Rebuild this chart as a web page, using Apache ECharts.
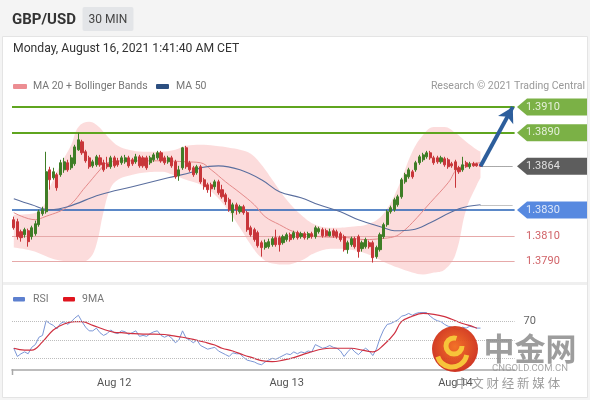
<!DOCTYPE html>
<html><head><meta charset="utf-8">
<script src="https://cdn.jsdelivr.net/npm/echarts@6/dist/echarts.min.js"></script>
<style>html,body{margin:0;padding:0;background:#f4f4f4;}#c{width:590px;height:400px;}</style>
</head><body><div id="c"></div>
<script>
// ---------- DATA ----------
// candles: [open, close, low, high]
const ohlc = [
[1.38225,1.38163,1.38148,1.38249],[1.38210,1.38094,1.38071,1.38233],[1.38132,1.38086,1.38055,1.38148],[1.38109,1.38148,1.38086,1.38163],[1.38140,1.38055,1.38016,1.38156],
[1.38094,1.38163,1.38071,1.38179],[1.38117,1.38194,1.38101,1.38218],[1.38187,1.38287,1.38171,1.38303],[1.38272,1.38303,1.38256,1.38326],[1.38287,1.38597,1.38272,1.38752],
[1.38612,1.38535,1.38458,1.38636],[1.38550,1.38597,1.38535,1.38628],[1.38574,1.38473,1.38450,1.38589],[1.38574,1.38667,1.38558,1.38690],[1.38612,1.38674,1.38589,1.38705],
[1.38667,1.38612,1.38597,1.38690],[1.38628,1.38705,1.38612,1.38728],[1.38659,1.38790,1.38643,1.38806],[1.38767,1.38845,1.38759,1.38899],[1.38829,1.38744,1.38728,1.38845],
[1.38752,1.38682,1.38667,1.38767],[1.38705,1.38636,1.38620,1.38721],[1.38643,1.38674,1.38628,1.38690],[1.38651,1.38713,1.38636,1.38728],[1.38705,1.38651,1.38636,1.38728],
[1.38667,1.38612,1.38597,1.38690],[1.38659,1.38636,1.38620,1.38713],[1.38636,1.38705,1.38620,1.38721],[1.38705,1.38643,1.38628,1.38721],[1.38682,1.38651,1.38636,1.38705],
[1.38667,1.38705,1.38651,1.38721],[1.38674,1.38705,1.38659,1.38728],[1.38705,1.38643,1.38628,1.38721],[1.38690,1.38659,1.38643,1.38705],[1.38674,1.38713,1.38659,1.38736],
[1.38713,1.38643,1.38628,1.38728],[1.38705,1.38643,1.38628,1.38721],[1.38705,1.38628,1.38612,1.38721],[1.38667,1.38705,1.38651,1.38721],[1.38690,1.38728,1.38674,1.38744],
[1.38705,1.38744,1.38690,1.38759],[1.38744,1.38682,1.38667,1.38759],[1.38705,1.38667,1.38651,1.38721],[1.38674,1.38705,1.38659,1.38721],[1.38705,1.38643,1.38628,1.38721],
[1.38674,1.38558,1.38543,1.38690],[1.38566,1.38612,1.38527,1.38643],[1.38628,1.38783,1.38612,1.38790],[1.38783,1.38636,1.38620,1.38798],[1.38667,1.38612,1.38597,1.38682],
[1.38628,1.38574,1.38558,1.38643],[1.38589,1.38636,1.38574,1.38651],[1.38636,1.38519,1.38504,1.38651],[1.38535,1.38481,1.38458,1.38550],[1.38496,1.38458,1.38434,1.38512],
[1.38496,1.38465,1.38403,1.38512],[1.38481,1.38519,1.38458,1.38535],[1.38519,1.38434,1.38419,1.38535],[1.38458,1.38403,1.38388,1.38496],[1.38419,1.38365,1.38341,1.38434],
[1.38380,1.38303,1.38287,1.38396],[1.38280,1.38341,1.38210,1.38357],[1.38341,1.38303,1.38264,1.38357],[1.38287,1.38326,1.38272,1.38341],[1.38326,1.38280,1.38264,1.38341],
[1.38280,1.38148,1.38132,1.38295],[1.38163,1.38109,1.38094,1.38179],[1.38148,1.38071,1.38055,1.38163],[1.38125,1.38024,1.38009,1.38140],[1.38047,1.38009,1.37939,1.38063],
[1.38009,1.38047,1.37993,1.38071],[1.38016,1.38055,1.38001,1.38078],[1.38032,1.38078,1.38016,1.38094],[1.38086,1.38032,1.38016,1.38148],[1.38086,1.38032,1.37978,1.38101],
[1.38047,1.38094,1.38032,1.38109],[1.38071,1.38109,1.38055,1.38125],[1.38109,1.38071,1.38055,1.38125],[1.38086,1.38125,1.38071,1.38140],[1.38125,1.38086,1.38071,1.38140],
[1.38094,1.38117,1.38078,1.38132],[1.38117,1.38086,1.38071,1.38132],[1.38086,1.38117,1.38071,1.38132],[1.38117,1.38094,1.38078,1.38132],[1.38094,1.38163,1.38078,1.38179],
[1.38132,1.38156,1.38117,1.38171],[1.38148,1.38101,1.38086,1.38163],[1.38140,1.38101,1.38094,1.38156],[1.38101,1.38132,1.38094,1.38156],[1.38140,1.38101,1.38086,1.38156],
[1.38132,1.38094,1.38078,1.38148],[1.38117,1.38071,1.38055,1.38132],[1.38094,1.37993,1.37978,1.38109],[1.37993,1.38047,1.37962,1.38063],[1.38032,1.38078,1.38016,1.38094],
[1.38078,1.38016,1.38001,1.38094],[1.38094,1.37978,1.37931,1.38109],[1.38001,1.38047,1.37978,1.38063],[1.38016,1.38071,1.38001,1.38086],[1.38047,1.38016,1.38001,1.38063],
[1.38047,1.37931,1.37893,1.38063],[1.37939,1.38009,1.37923,1.38024],[1.37993,1.38109,1.37978,1.38125],[1.38094,1.38187,1.38078,1.38202],[1.38187,1.38287,1.38171,1.38303],
[1.38287,1.38318,1.38272,1.38334],[1.38303,1.38380,1.38287,1.38396],[1.38341,1.38403,1.38326,1.38419],[1.38403,1.38535,1.38388,1.38550],[1.38519,1.38574,1.38504,1.38589],
[1.38558,1.38612,1.38543,1.38628],[1.38597,1.38558,1.38543,1.38612],[1.38612,1.38667,1.38597,1.38682],[1.38667,1.38713,1.38651,1.38728],[1.38690,1.38728,1.38674,1.38744],
[1.38713,1.38744,1.38698,1.38759],[1.38744,1.38705,1.38690,1.38759],[1.38705,1.38667,1.38651,1.38721],[1.38705,1.38674,1.38659,1.38721],[1.38674,1.38705,1.38659,1.38721],
[1.38698,1.38651,1.38636,1.38713],[1.38690,1.38636,1.38620,1.38705],[1.38659,1.38643,1.38628,1.38674],[1.38674,1.38612,1.38473,1.38690],[1.38628,1.38597,1.38581,1.38643],
[1.38612,1.38651,1.38597,1.38713],[1.38667,1.38636,1.38628,1.38682],[1.38636,1.38659,1.38620,1.38674],[1.38659,1.38643,1.38636,1.38674],[1.38659,1.38643,1.38636,1.38667],
[1.38651,1.38640,1.38636,1.38659]
];

// MA 20 (candle index, price)
const ma20Idx = [0,6,8,15,20,24,26,32,41,48,52,55,59,63,67,70,74,78,82,85,93,98,102,106,108,111,116,121,124,130];
const ma20 = [1.38280,1.38225,1.38241,1.38326,1.38481,1.38612,1.38667,1.38682,1.38682,1.38674,1.38667,1.38612,1.38519,1.38434,1.38341,1.38249,1.38187,1.38132,1.38109,1.38094,1.38086,1.38071,1.38078,1.38094,1.38125,1.38202,1.38357,1.38512,1.38628,1.38667];

// MA 50
const ma50Idx = [0,5,10,15,24,33,43,50,52,57,63,69,74,80,85,91,96,103,106,111,116,124,130];
const ma50 = [1.38388,1.38341,1.38303,1.38326,1.38419,1.38481,1.38550,1.38597,1.38628,1.38643,1.38612,1.38535,1.38442,1.38396,1.38341,1.38287,1.38225,1.38163,1.38140,1.38148,1.38202,1.38310,1.38341];

// Bollinger bands
const bbIdx = [0,5,8,10,13,16,18,21,23,25,27,29,32,36,41,45,48,52,56,60,63,66,69,72,76,80,84,89,94,99,103,107,111,114,117,120,123,126,129,130];
const bbUpper = [1.38264,1.38272,1.38318,1.38473,1.38651,1.38806,1.38945,1.38984,1.38961,1.38906,1.38845,1.38798,1.38767,1.38752,1.38752,1.38767,1.38798,1.38806,1.38798,1.38783,1.38767,1.38736,1.38651,1.38535,1.38380,1.38264,1.38187,1.38163,1.38171,1.38194,1.38272,1.38473,1.38752,1.38883,1.38945,1.38945,1.38899,1.38829,1.38767,1.38752];
const bbLower = [1.38009,1.37985,1.37954,1.37931,1.37908,1.37900,1.37900,1.37923,1.38032,1.38287,1.38473,1.38535,1.38566,1.38589,1.38597,1.38566,1.38535,1.38496,1.38419,1.38287,1.38163,1.38032,1.37931,1.37885,1.37877,1.37908,1.37970,1.38001,1.37993,1.37954,1.37900,1.37854,1.37815,1.37800,1.37815,1.37838,1.37954,1.38303,1.38496,1.38550];

// RSI (one per candle) and its 9MA
const rsi = [41,32,35,37,35,42,45,53,55,71, 68,66,62,68,70,67,70,74,77,70, 64,60,60,63,58,55,57,61,58,57,
 60,59,56,58,60,54,55,54,57,59, 60,55,53,55,52,47,50,60,52,50, 47,50,44,42,40,41,42,38,36,34,
 32,36,35,35,31,28,27,26,24,23, 26,28,30,29,31,33,35,34,37,35, 37,36,38,37,45,43,41,42,44,42,
 41,38,32,37,41,37,34,38,41,38, 33,40,52,61,67,68,70,72,76,77, 79,77,79,80,80,80,76,73,71,70,
 67,65,64,62,61,64,63,65,64,63, 63];
const rsiMaIdx = [0,3,5,8,11,14,17,19,22,25,28,30,33,36,39,42,44,47,50,53,56,58,61,64,67,69,72,75,78,82,88,94,97,100,103,106,108,111,114,117,120,122,125,128,129];
const rsiMa = [41,39,39,48,61,67.5,70,70,66,61.7,58.4,58,57,56.5,56.5,56,54.7,53,50.7,47.8,44.5,41,38,33.6,30,27.4,26.3,28,30.7,36,41,41,39,37,44.5,57,70,76,79,78,75.5,72.6,68,64.5,62.8];
const rsiLevels = [70, 50, 30];

// price levels and tick labels
const levels = [1.3910, 1.3890, 1.3864, 1.3830, 1.3810, 1.3790];
const levelText = ['1.3910', '1.3890', '1.3864', '1.3830', '1.3810', '1.3790'];
const dayTickIdx = [28, 76, 123];
const dayTickText = ['Aug 12', 'Aug 13', 'Aug 14'];
const SLOTS = 140;

// ---------- STYLES ----------
const FONT = 'Roboto, "Liberation Sans", sans-serif';
const GREEN = '#3f7d26', RED = '#c8363a';
const levelLine = [
  {color: '#5fa51f', width: 2, tag: '#5a9e18', txt: '#fff', full: true},
  {color: '#5fa51f', width: 2, tag: '#5a9e18', txt: '#fff', full: true},
  {color: null, width: 0, tag: '#343434', txt: '#fff', full: false},
  {color: '#2461b6', width: 1.5, tag: '#2d6cd8', txt: '#fff', full: true},
  {color: '#e6a9a9', width: 1.2, tag: null, txt: '#c43a40', full: true},
  {color: '#e6a9a9', width: 1.2, tag: null, txt: '#c43a40', full: true}
];

const categories = [];
for (let i = 0; i < SLOTS; i++) categories.push(String(i));
const rsiCats = [];
for (let i = 0; i < SLOTS; i++) rsiCats.push('');
dayTickIdx.forEach((k, j) => { rsiCats[k] = dayTickText[j]; });

const pairs = (idx, vals) => idx.map((k, j) => [k, vals[j]]);
const last = ohlc.length - 1;
const lastClose = ohlc[last][1];
const ma50Last = ma50[ma50.length - 1];
const targetIdx = 139;

const chart = echarts.init(document.getElementById('c'), null, {renderer: 'canvas'});

function txt(x, y, text, size, color, extra) {
  return {type: 'text', x: x, y: y, silent: true, z: 10,
    style: Object.assign({text: text, fontSize: size, fontFamily: FONT, fill: color, align: 'left', verticalAlign: 'middle'}, extra || {})};
}

const graphics = [
  {type: 'rect', silent: true, z: -10, shape: {x: 2.5, y: 36.5, width: 585, height: 361}, style: {fill: '#fff', stroke: '#e4e4e4', lineWidth: 1}},
  {type: 'rect', silent: true, z: -9, shape: {x: 3, y: 282, width: 584, height: 3}, style: {fill: '#efefef'}},
  txt(12, 20, 'GBP/USD', 15, '#333', {fontWeight: 'bold'}),
  {type: 'rect', silent: true, shape: {x: 82.5, y: 7, width: 51, height: 24, r: 2}, style: {fill: '#e3e5e8'}},
  txt(108, 19.5, '30 MIN', 12, '#444', {align: 'center'}),
  txt(13, 49, 'Monday, August 16, 2021 1:41:40 AM CET', 12.2, '#333'),
  {type: 'rect', silent: true, shape: {x: 13, y: 84, width: 14, height: 5, r: 1}, style: {fill: '#ec8d92'}},
  txt(33, 86.5, 'MA 20 + Bollinger Bands', 10.5, '#777'),
  {type: 'rect', silent: true, shape: {x: 156, y: 84, width: 13, height: 5, r: 1}, style: {fill: '#2c4f80'}},
  txt(176, 86.5, 'MA 50', 10.5, '#777'),
  txt(585, 86.5, 'Research \u00a9 2021 Trading Central', 10.5, '#999', {align: 'right'}),
  {type: 'rect', silent: true, shape: {x: 13, y: 297, width: 12, height: 4.5, r: 1}, style: {fill: '#5d80cf'}},
  txt(33, 299.5, 'RSI', 10.5, '#777'),
  {type: 'rect', silent: true, shape: {x: 63, y: 297, width: 12, height: 4.5, r: 1}, style: {fill: '#e0141e'}},
  txt(82, 299.5, '9MA', 10.5, '#777'),
  {type: 'line', silent: true, shape: {x1: 12.5, y1: 369, x2: 12.5, y2: 375}, style: {stroke: '#a8a8a8', lineWidth: 1.5}},
  // watermark
  {type: 'circle', silent: true, z: 20, shape: {cx: 455, cy: 349, r: 23},
    style: {fill: new echarts.graphic.RadialGradient(0.5, 0.45, 0.6, [{offset: 0, color: '#f26a1c'}, {offset: 1, color: '#c9261a'}]), opacity: 0.95}},
  {type: 'arc', silent: true, z: 21, shape: {cx: 454, cy: 346, r: 8, startAngle: 0, endAngle: Math.PI * 1.6}, style: {stroke: '#f7c43a', lineWidth: 5, fill: null}},
  {type: 'arc', silent: true, z: 21, shape: {cx: 452, cy: 352, r: 15, startAngle: 0.2, endAngle: Math.PI * 0.9}, style: {stroke: '#f7c43a', lineWidth: 5, fill: null}},
  txt(530, 348, '\u4e2d\u91d1\u7f51', 31, 'rgba(140,140,140,0.85)', {align: 'center', fontWeight: 'bold', fontFamily: '"Noto Sans CJK SC", sans-serif'}),
  txt(530, 369, 'CNGOLD.COM.CN', 9.5, 'rgba(150,150,150,0.85)', {align: 'center'}),
  txt(508, 383, '\u4e2d \u6587 \u8d22 \u7ecf \u65b0 \u5a92 \u4f53', 12.5, 'rgba(140,140,140,0.85)', {align: 'center', fontFamily: '"Noto Sans CJK SC", sans-serif'})
];

// level lines on main grid
const levelMarks = [];
levels.forEach((v, j) => {
  const s = levelLine[j];
  if (s.full) levelMarks.push({yAxis: v, lineStyle: {color: s.color, width: s.width, type: 'solid'}});
});

const tagPath = 'path://M0,8 L10,0 L70,0 L70,16 L10,16 Z';
const tagData = levels.map((v, j) => {
  const s = levelLine[j];
  return {
    value: [0, v],
    symbol: s.tag ? tagPath : 'rect',
    itemStyle: {color: s.tag || 'rgba(0,0,0,0)'},
    label: {show: true, position: 'insideLeft', distance: 9, formatter: levelText[j], color: s.txt, fontSize: 11, fontFamily: FONT}
  };
});

const option = {
  animation: false,
  backgroundColor: 'transparent',
  graphic: graphics,
  grid: [
    {left: 12, top: 94, width: SLOTS * 3.59, height: 187, outerBoundsMode: 'none', containLabel: false},
    {left: 517, top: 94, width: 70, height: 187, outerBoundsMode: 'none', containLabel: false},
    {left: 12, top: 310.7, width: SLOTS * 3.59, height: 58.6, outerBoundsMode: 'none', containLabel: false}
  ],
  xAxis: [
    {type: 'category', gridIndex: 0, data: categories, show: false, boundaryGap: true},
    {type: 'value', gridIndex: 1, min: 0, max: 1, show: false},
    {type: 'category', gridIndex: 2, data: rsiCats, boundaryGap: true,
      axisLine: {show: true, lineStyle: {color: '#a8a8a8', width: 1.5}},
      axisTick: {show: false},
      axisLabel: {show: true, interval: 0, color: '#555', fontSize: 11, fontFamily: FONT, margin: 8},
      splitLine: {show: false}}
  ],
  yAxis: [
    {type: 'value', gridIndex: 0, min: 1.3775, max: 1.3920, show: false, splitLine: {show: false}},
    {type: 'value', gridIndex: 1, min: 1.3775, max: 1.3920, show: false, splitLine: {show: false}},
    {type: 'value', gridIndex: 2, min: 18, max: 82, show: false, splitLine: {show: false}}
  ],
  series: [
    {type: 'line', xAxisIndex: 0, yAxisIndex: 0, data: pairs(bbIdx, bbLower), stack: 'bb', smooth: 0.4,
      symbol: 'none', lineStyle: {opacity: 0}, silent: true, z: 1},
    {type: 'line', xAxisIndex: 0, yAxisIndex: 0, data: bbIdx.map((k, j) => [k, bbUpper[j] - bbLower[j]]), stack: 'bb', smooth: 0.4,
      symbol: 'none', lineStyle: {opacity: 0}, areaStyle: {color: 'rgba(244,140,140,0.3)', opacity: 1}, silent: true, z: 1},
    {type: 'line', xAxisIndex: 0, yAxisIndex: 0, data: pairs(ma20Idx, ma20), smooth: 0.4, symbol: 'none',
      lineStyle: {color: '#e58a8a', width: 1}, silent: true, z: 3},
    {type: 'line', xAxisIndex: 0, yAxisIndex: 0, data: pairs(ma50Idx, ma50), smooth: 0.4, symbol: 'none',
      lineStyle: {color: '#5a6e9e', width: 1.1}, silent: true, z: 3, clip: false,
      markLine: {silent: true, symbol: ['none', 'none'], label: {show: false}, animation: false, z: 2, precision: 6,
        data: levelMarks.concat([
          [{coord: [last, lastClose], lineStyle: {color: '#555', type: 'dotted', width: 1}}, {coord: [targetIdx, lastClose]}],
          [{coord: [last, ma50Last], lineStyle: {color: '#888', type: 'dotted', width: 1}}, {coord: [targetIdx, ma50Last]}]
        ])}},
    {type: 'candlestick', xAxisIndex: 0, yAxisIndex: 0, data: ohlc, barWidth: 2.6, silent: true, z: 4,
      itemStyle: {color: GREEN, color0: RED, borderColor: GREEN, borderColor0: RED, borderWidth: 1}},
    {type: 'line', xAxisIndex: 0, yAxisIndex: 0, data: [], silent: true, z: 6, clip: false,
      markLine: {silent: true, animation: false, label: {show: false}, symbol: ['none', 'arrow'], symbolSize: [13, 15], precision: 6,
        lineStyle: {color: '#2d5e9c', width: 4, type: 'solid'},
        data: [[{coord: [last, lastClose]}, {coord: [targetIdx, levels[0]]}]]}},
    {type: 'scatter', xAxisIndex: 1, yAxisIndex: 1, data: tagData, symbolSize: [70, 17], symbolOffset: [35, 0],
      silent: true, z: 8, clip: false},
    {type: 'line', xAxisIndex: 2, yAxisIndex: 2, data: rsi, symbol: 'none', lineStyle: {color: '#7b96d6', width: 1}, silent: true, z: 3,
      markLine: {silent: true, animation: false, symbol: ['none', 'none'], label: {show: false}, precision: 2,
        lineStyle: {color: '#bdbdbd', type: 'dotted', width: 1},
        data: rsiLevels.map(v => ({yAxis: v, label: v === 70 ? {show: true, position: 'end', distance: 9, formatter: String(v), color: '#666', fontSize: 11, fontFamily: FONT} : {show: false}}))}},
    {type: 'line', xAxisIndex: 2, yAxisIndex: 2, data: pairs(rsiMaIdx, rsiMa), smooth: 0.4, symbol: 'none',
      lineStyle: {color: '#cf3040', width: 1.2}, silent: true, z: 4}
  ]
};
chart.setOption(option);
</script>
</body></html>
